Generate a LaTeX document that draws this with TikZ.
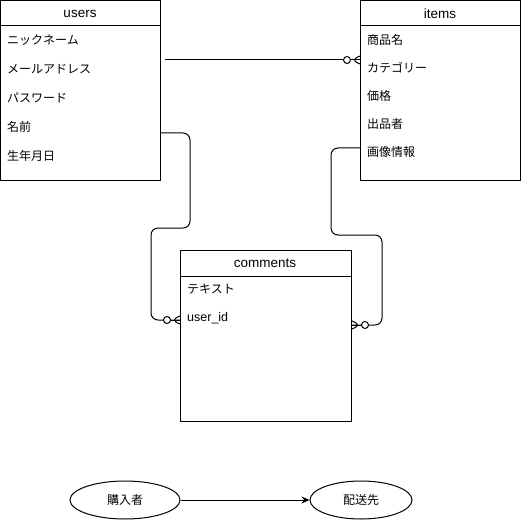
\documentclass[tikz,border=0pt]{standalone}
\usepackage{fontspec}
\setmainfont{Liberation Sans}
\newfontfamily\jp{Noto Sans CJK JP}
\usetikzlibrary{shapes.geometric,arrows.meta}

\tikzset{
  table/.style={draw, line width=1pt, anchor=north west, inner sep=0pt},
  title/.style={font=\fontsize{13.5}{15}\selectfont},
  field/.style={anchor=west, inner sep=0pt, font=\jp\fontsize{12}{14}\selectfont},
  link/.style={line width=1pt, rounded corners=7pt},
  entity/.style={ellipse, draw, line width=1pt, inner sep=0pt, font=\jp\fontsize{12}{14}\selectfont},
  zeromany/.pic={
    \draw[line width=1pt] (-9,0) -- (0,0);
    \draw[line width=1pt] (0,4) -- (-9,0) -- (0,-4);
    \draw[line width=1pt, fill=white] (-13,0) circle (3.5pt);
  }
}

\begin{document}
\begin{tikzpicture}[x=1pt, y=-1pt]
        \useasboundingbox[fill=white] (0,0) rectangle (521,521);

        % users table
        \node[table, minimum width=160pt, minimum height=180pt] (users) at (0,0) {};
        \node[title] at (80,14) {users};
        \draw[line width=1pt] (0,26) -- (160,26);
        \node[field] (u1) at (7,40) {ニックネーム};
        \node[field] (u2) at (7,69) {メールアドレス};
        \node[field] (u3) at (7,98) {パスワード};
        \node[field] (u4) at (7,127) {名前};
        \node[field] (u5) at (7,156) {生年月日};

        % items table
        \node[table, minimum width=160pt, minimum height=180pt] (items) at (360,0) {};
        \node[title] at (440,14) {items};
        \draw[line width=1pt] (360,26) -- (520,26);
        \node[field] (i1) at (367,40) {商品名};
        \node[field] (i2) at (367,68) {カテゴリー};
        \node[field] (i3) at (367,96) {価格};
        \node[field] (i4) at (367,124) {出品者};
        \node[field] (i5) at (367,152) {画像情報};

        % comments table
        \node[table, minimum width=171pt, minimum height=171pt] (comments) at (180,250) {};
        \node[title] at (265,263) {comments};
        \draw[line width=1pt] (180,276) -- (351,276);
        \node[field] (c1) at (187,289) {テキスト};
        \node[field, font=\fontsize{12.5}{14}\selectfont] (c2) at (187,318) {user\_id};

        % relations
        \coordinate (free) at (165,60);
        \draw[link] (free) -- (items.west |- free) pic {zeromany};
        \draw[link] (users.east |- 0,133) -- (190,133) -- (190,228) -- (151,228)
            -- (151,320) -- (comments.west |- 0,320) pic {zeromany};
        \draw[link] (items.west |- 0,148) -- (331,148) -- (331,235) -- (382,235)
            -- (382,325) -- (comments.east |- 0,325) pic[rotate=180] {zeromany};

        % buyer and destination
        \node[entity, minimum width=110pt, minimum height=38pt] (buyer) at (125,500) {購入者};
        \node[entity, minimum width=102pt, minimum height=38pt] (dest) at (361,500) {配送先};
        \draw[line width=1pt, -{Stealth[length=8pt, width=7pt]}] (buyer) -- (dest);
\end{tikzpicture}
\end{document}
